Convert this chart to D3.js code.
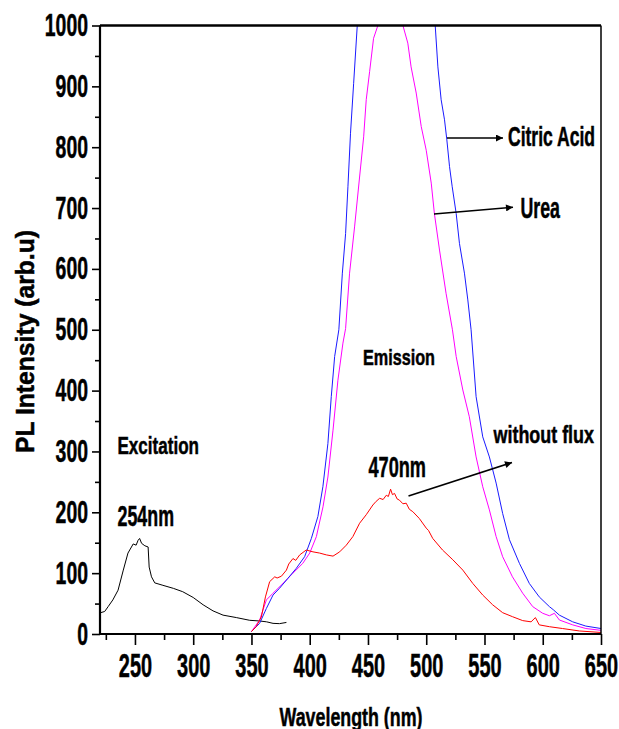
<!DOCTYPE html>
<html>
<head>
<meta charset="utf-8">
<script src="https://cdn.jsdelivr.net/npm/d3@7/dist/d3.min.js"></script>
<style>
  html, body { margin: 0; padding: 0; background: #fff; }
  svg { display: block; }
  .lbl { font-family: "Liberation Sans Narrow", "Liberation Sans", Arial, sans-serif; font-weight: bold; fill: #000; stroke: #000; stroke-width: 0.5px; }
</style>
</head>
<body>
<div id="chart"></div>
<script>
// wavelength (nm) / PL intensity
var excitationWl = [220.5, 224, 227, 231, 235.5, 240, 244, 248.5, 251, 252.7, 254, 255.7, 258.5, 261.3, 262.2, 264.2, 267, 274, 283, 291, 300, 308.5, 317, 325.6, 337, 348.5, 357, 363, 368.5, 374, 380];
var excitationPl = [35, 37, 45, 56, 72, 105, 133, 148, 146, 154, 157, 149, 145, 143, 110, 94, 84, 80, 75, 69.5, 60, 48, 38, 31, 27, 22.5, 21.4, 20, 17.5, 17, 19];

var noFluxWl = [350, 354, 358.5, 362, 365.6, 370, 372, 375.7, 380, 382, 385.6, 388, 391.4, 397, 402.8, 408.5, 414.3, 420, 425.7, 431.4, 437, 442.8, 448.5, 454.2, 457, 460, 463, 465.7, 467.5, 469.4, 471, 472.8, 475, 477, 480, 482.8, 485.5, 488.5, 494, 500, 502, 505.6, 514, 522.8, 531.4, 540, 548.5, 557, 565.6, 574, 582.8, 590, 593.7, 597, 605.7, 617, 631.4, 650];
var noFluxPl = [4, 12, 28, 61, 86, 94, 92, 95, 105, 115, 124, 121, 130, 138, 135, 133, 130, 128, 135, 146, 160, 182, 196, 212, 218, 223, 221, 228, 226, 238, 229, 231, 222, 220, 214, 215, 205, 201, 190, 174, 170, 157, 138, 122, 105, 83, 64, 48, 35, 28.5, 22, 20, 27, 15, 12, 9, 5, 2.5];

var citricWl = [350, 357, 362.8, 368.5, 374, 381.3, 388.5, 395.6, 401.4, 407, 411.3, 415.6, 418.5, 421.4, 425, 428, 430.8, 432.8, 435, 437.7, 440.8, 474, 507.7, 510, 512.8, 515.7, 517.7, 520, 522.3, 525.7, 528.5, 532.8, 535.7, 538.5, 542.8, 548.5, 554.2, 560, 565.6, 571.4, 580, 588.5, 597, 605.7, 609, 614.3, 625.7, 637, 650];
var citricPl = [4, 17.5, 42, 64, 75, 91.5, 108, 127, 157, 193, 242, 313, 390, 456, 500, 593, 658, 735, 823, 905, 1000, 1500, 1000, 932, 878, 845, 812, 768, 735, 691, 642, 593, 549, 500, 390, 324, 291, 248, 198, 155, 116, 83, 61, 45, 40, 31, 20, 13, 9];

var ureaWl = [350, 357, 362.8, 368.5, 377, 385.6, 394, 400, 405.7, 411.4, 415.6, 420, 424.2, 428.5, 430.8, 434.2, 438.5, 442.8, 446.3, 448.5, 451.4, 454.8, 458.5, 469, 480, 484.2, 487, 491.4, 495.7, 500, 504.3, 507, 511.4, 517, 522.5, 525.7, 531.4, 537, 542.8, 548.5, 554.2, 560, 565.6, 574, 582.8, 591.4, 600, 605.7, 610, 614.3, 625.7, 637, 650];
var ureaPl = [4, 23, 56, 67, 83, 100, 116, 133, 160, 209, 258, 335, 417, 478, 502, 593, 669, 751, 817, 878, 924, 979, 1000, 1060, 1000, 971, 932, 889, 834, 795, 741, 691, 631, 560, 500, 456, 401, 357, 291, 242, 204, 160, 127, 94, 67, 45, 34, 30, 34, 23, 15, 9, 6];

var xMajorTicks = [250, 300, 350, 400, 450, 500, 550, 600, 650];
var xMinorTicks = [225, 275, 325, 375, 425, 475, 525, 575, 625];
var yMajorTicks = [0, 100, 200, 300, 400, 500, 600, 700, 800, 900, 1000];
var yMinorTicks = [50, 150, 250, 350, 450, 550, 650, 750, 850, 950];

var width = 619, height = 729;
var plotLeft = 100, plotRight = 601, plotTop = 25.5, plotBottom = 634;

var x = d3.scaleLinear().domain([220, 650]).range([plotLeft, plotRight]);
var y = d3.scaleLinear().domain([0, 1000]).range([plotBottom, plotTop]);

var svg = d3.select('#chart').append('svg')
  .attr('width', width)
  .attr('height', height);

var defs = svg.append('defs');
defs.append('clipPath').attr('id', 'plot-clip')
  .append('rect')
  .attr('x', plotLeft).attr('y', plotTop)
  .attr('width', plotRight - plotLeft).attr('height', plotBottom - plotTop);
defs.append('marker')
  .attr('id', 'arrow')
  .attr('viewBox', '0 0 10 10')
  .attr('refX', 10).attr('refY', 5)
  .attr('markerWidth', 10).attr('markerHeight', 7)
  .attr('markerUnits', 'userSpaceOnUse')
  .attr('orient', 'auto')
  .append('path')
  .attr('d', 'M0,0 L10,5 L0,10 Z')
  .attr('fill', '#000');

// curves
var line = d3.line()
  .x(function(d) { return x(d[0]); })
  .y(function(d) { return y(d[1]); });

var curves = [
  { wl: excitationWl, pl: excitationPl, color: '#000000' },
  { wl: ureaWl, pl: ureaPl, color: '#ff00ff' },
  { wl: citricWl, pl: citricPl, color: '#1a1aff' },
  { wl: noFluxWl, pl: noFluxPl, color: '#ff0000' }
];

var plot = svg.append('g').attr('clip-path', 'url(#plot-clip)');
plot.selectAll('path')
  .data(curves)
  .enter().append('path')
  .attr('fill', 'none')
  .attr('stroke', function(c) { return c.color; })
  .attr('stroke-width', 1)
  .attr('d', function(c) { return line(d3.zip(c.wl, c.pl)); });

// frame top / right
svg.append('line')
  .attr('x1', plotLeft).attr('y1', plotTop).attr('x2', plotRight).attr('y2', plotTop)
  .attr('stroke', '#000').attr('stroke-width', 2.5);
svg.append('line')
  .attr('x1', plotRight).attr('y1', plotTop).attr('x2', plotRight).attr('y2', plotBottom)
  .attr('stroke', '#000').attr('stroke-width', 1.5);

// x axis
var xAxis = svg.append('g')
  .attr('transform', 'translate(0,' + plotBottom + ')')
  .call(d3.axisBottom(x)
    .tickValues(xMajorTicks.concat(xMinorTicks))
    .tickSize(10)
    .tickFormat(function(d) { return xMajorTicks.indexOf(d) >= 0 ? d : ''; }));
xAxis.select('.domain').attr('stroke-width', 2.2).attr('d', 'M' + plotLeft + ',0H' + plotRight);
xAxis.selectAll('.tick line')
  .attr('stroke-width', 1.6)
  .attr('y2', function(d) { return xMajorTicks.indexOf(d) >= 0 ? 11 : 6; });
xAxis.selectAll('.tick text')
  .attr('class', 'lbl')
  .attr('y', 43).attr('dy', 0)
  .style('font-size', '33px')
  .attr('textLength', function(d) { return xMajorTicks.indexOf(d) >= 0 ? String(d).length * 11.1 : null; })
  .attr('lengthAdjust', 'spacingAndGlyphs');

// y axis
var yAxis = svg.append('g')
  .attr('transform', 'translate(' + plotLeft + ',0)')
  .call(d3.axisLeft(y)
    .tickValues(yMajorTicks.concat(yMinorTicks))
    .tickSize(8)
    .tickFormat(function(d) { return yMajorTicks.indexOf(d) >= 0 ? d : ''; }));
yAxis.select('.domain').attr('stroke-width', 2.2).attr('d', 'M0,' + plotTop + 'V' + plotBottom);
yAxis.selectAll('.tick line')
  .attr('stroke-width', 1.6)
  .attr('x2', function(d) { return yMajorTicks.indexOf(d) >= 0 ? -8 : -5; });
yAxis.selectAll('.tick text')
  .attr('class', 'lbl')
  .attr('x', -12).attr('dy', 10)
  .style('font-size', '31px')
  .attr('textLength', function(d) { return yMajorTicks.indexOf(d) >= 0 ? String(d).length * 10.8 : null; })
  .attr('lengthAdjust', 'spacingAndGlyphs');

// axis titles
svg.append('text')
  .attr('class', 'lbl')
  .attr('x', 351).attr('y', 726)
  .attr('text-anchor', 'middle')
  .style('font-size', '26px')
  .attr('textLength', 143).attr('lengthAdjust', 'spacingAndGlyphs')
  .text('Wavelength (nm)');
svg.append('text')
  .attr('class', 'lbl')
  .attr('transform', 'translate(34,341.5) rotate(-90)')
  .attr('text-anchor', 'middle')
  .style('font-size', '25px')
  .attr('textLength', 223).attr('lengthAdjust', 'spacingAndGlyphs')
  .text('PL Intensity (arb.u)');

// annotations
var notes = [
  { t: 'Citric Acid', x: 508, y: 146, size: 27, len: 87 },
  { t: 'Urea', x: 520.5, y: 218, size: 29, len: 39.5 },
  { t: 'Emission', x: 363, y: 364.5, size: 22, len: 72 },
  { t: 'without flux', x: 493.5, y: 442.5, size: 24, len: 100.5 },
  { t: 'Excitation', x: 117.5, y: 453.5, size: 23.5, len: 81.5 },
  { t: '470nm', x: 368.5, y: 476.5, size: 29, len: 57.5 },
  { t: '254nm', x: 117.5, y: 526, size: 29, len: 56.5 }
];
svg.selectAll('text.note')
  .data(notes)
  .enter().append('text')
  .attr('class', 'lbl note')
  .attr('x', function(n) { return n.x; })
  .attr('y', function(n) { return n.y; })
  .style('font-size', function(n) { return n.size + 'px'; })
  .attr('textLength', function(n) { return n.len; })
  .attr('lengthAdjust', 'spacingAndGlyphs')
  .text(function(n) { return n.t; });

// arrows pointing from the curves to their labels
var arrows = [
  [447, 138, 503, 138],
  [434, 214, 513, 207.3],
  [408.5, 496, 512, 462.5]
];
svg.selectAll('line.arrow')
  .data(arrows)
  .enter().append('line')
  .attr('class', 'arrow')
  .attr('x1', function(a) { return a[0]; })
  .attr('y1', function(a) { return a[1]; })
  .attr('x2', function(a) { return a[2]; })
  .attr('y2', function(a) { return a[3]; })
  .attr('stroke', '#000')
  .attr('stroke-width', 1.6)
  .attr('marker-end', 'url(#arrow)');
</script>
</body>
</html>
